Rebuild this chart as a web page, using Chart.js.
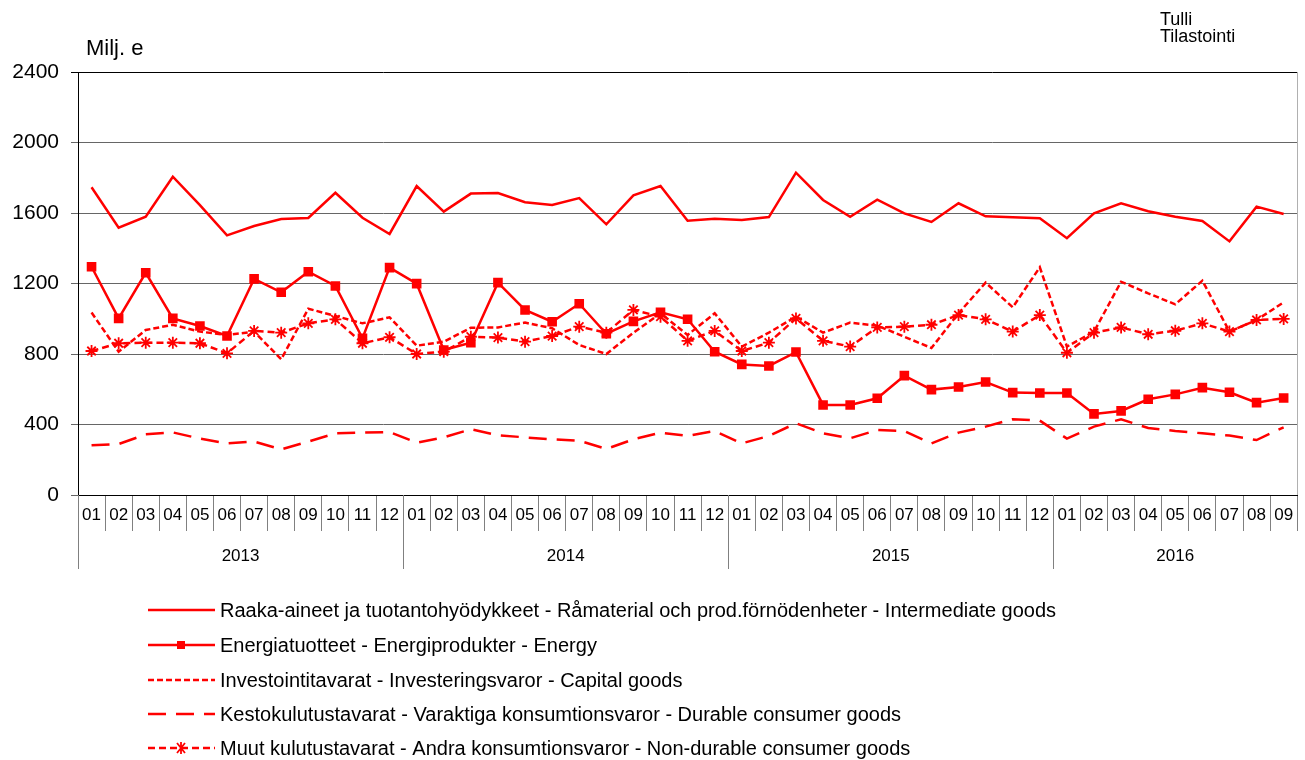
<!DOCTYPE html>
<html>
<head>
<meta charset="utf-8">
<script src="https://cdn.jsdelivr.net/npm/chart.js@4"></script>
<style>
  body { margin: 0; background: #fff; }
  #wrap { width: 1305px; height: 760px; }
</style>
</head>
<body>
<div id="wrap"><canvas id="importChart" width="1305" height="760"></canvas></div>
<script>
const years = ['2013', '2014', '2015', '2016'];
const months = [
  '01','02','03','04','05','06','07','08','09','10','11','12',
  '01','02','03','04','05','06','07','08','09','10','11','12',
  '01','02','03','04','05','06','07','08','09','10','11','12',
  '01','02','03','04','05','06','07','08','09'
];
const yTicks = [0, 400, 800, 1200, 1600, 2000, 2400];

const intermediate = [
  1746, 1517, 1579, 1806, 1645, 1473, 1526, 1566, 1572, 1715, 1573, 1481,
  1753, 1608, 1710, 1713, 1661, 1645, 1685, 1536, 1700, 1753, 1556, 1568,
  1560, 1577, 1829, 1674, 1579, 1676, 1598, 1549, 1655, 1581, 1576, 1570,
  1457, 1598, 1655, 1610, 1579, 1555, 1439, 1636, 1594
];
const energy = [
  1295, 1002, 1261, 1002, 959, 902, 1226, 1150, 1267, 1186, 889, 1290,
  1199, 823, 864, 1205, 1050, 983, 1085, 915, 985, 1037, 997, 813,
  741, 732, 811, 511, 511, 549, 677, 598, 613, 641, 581, 579,
  579, 460, 477, 543, 571, 609, 583, 524, 550
];
const capital = [
  1035, 813, 936, 966, 927, 908, 927, 770, 1057, 1016, 974, 1008,
  847, 870, 949, 951, 978, 946, 851, 800, 921, 1031, 908, 1031,
  842, 921, 1012, 921, 978, 961, 898, 834, 1031, 1205, 1065, 1292,
  842, 927, 1210, 1144, 1082, 1216, 927, 993, 1093
];
const durable = [
  282, 289, 344, 355, 320, 293, 303, 259, 303, 350, 354, 357,
  297, 327, 373, 339, 327, 316, 308, 261, 316, 354, 335, 363,
  293, 335, 407, 350, 322, 369, 363, 293, 354, 388, 430, 422,
  320, 388, 430, 380, 363, 350, 337, 312, 384
];
const nondurable = [
  817, 861, 864, 864, 861, 804, 931, 921, 974, 997, 861, 895,
  800, 813, 898, 893, 870, 902, 955, 921, 1050, 1012, 875, 931,
  817, 864, 1002, 875, 842, 951, 955, 966, 1021, 997, 927, 1021,
  807, 921, 951, 912, 932, 974, 927, 993, 999
];

const seriesNames = [
  'Raaka-aineet ja tuotantohyödykkeet - Råmaterial och prod.förnödenheter - Intermediate goods',
  'Energiatuotteet - Energiprodukter - Energy',
  'Investointitavarat - Investeringsvaror - Capital goods',
  'Kestokulutustavarat - Varaktiga konsumtionsvaror - Durable consumer goods',
  'Muut kulutustavarat - Andra konsumtionsvaror - Non-durable consumer goods'
];

const red = '#ff0000';
const font = 'Arial, "Liberation Sans", sans-serif';

// extra texts, year row, separators and legend
const extrasPlugin = {
  id: 'extras',
  afterDraw(chart) {
    const ctx = chart.ctx;
    const area = chart.chartArea;
    const step = (area.right - area.left) / months.length;
    ctx.save();

    // right border of the plot
    ctx.strokeStyle = '#b0b0b0';
    ctx.lineWidth = 1;
    ctx.beginPath();
    ctx.moveTo(Math.round(area.right) + 0.5, area.top);
    ctx.lineTo(Math.round(area.right) + 0.5, area.bottom);
    ctx.stroke();

    ctx.fillStyle = '#000';
    ctx.font = '22px ' + font;
    ctx.textBaseline = 'alphabetic';
    ctx.textAlign = 'left';
    ctx.fillText('Milj. e', 86, 55);
    ctx.font = '18px ' + font;
    ctx.fillText('Tulli', 1160, 25);
    ctx.fillText('Tilastointi', 1160, 42);

    // year separators and labels
    ctx.strokeStyle = '#808080';
    ctx.lineWidth = 1;
    ctx.font = '17px ' + font;
    ctx.textAlign = 'center';
    ctx.textBaseline = 'middle';
    let start = 0;
    years.forEach((yr, k) => {
      const n = k < 3 ? 12 : months.length - 36;
      const x0 = area.left + start * step;
      const x1 = area.left + (start + n) * step;
      ctx.beginPath();
      ctx.moveTo(Math.round(x0) + 0.5, area.bottom);
      ctx.lineTo(Math.round(x0) + 0.5, 569);
      ctx.stroke();
      ctx.fillText(yr, (x0 + x1) / 2, 556);
      start += n;
    });

    // legend
    const rows = [610, 645, 680, 714, 748];
    const ds = chart.data.datasets;
    ctx.textAlign = 'left';
    ctx.font = '20px ' + font;
    rows.forEach((ry, i) => {
      const d = ds[i];
      ctx.strokeStyle = red;
      ctx.lineWidth = 2.5;
      ctx.setLineDash(d.borderDash || []);
      ctx.beginPath();
      ctx.moveTo(148, ry);
      ctx.lineTo(215, ry);
      ctx.stroke();
      ctx.setLineDash([]);
      if (d.pointStyle === 'rect') {
        ctx.fillStyle = red;
        ctx.fillRect(177, ry - 4, 8, 8);
      } else if (d.pointStyle === 'star') {
        ctx.lineWidth = 1.8;
        ctx.beginPath();
        ctx.moveTo(177, ry - 5); ctx.lineTo(185, ry + 5);
        ctx.moveTo(185, ry - 5); ctx.lineTo(177, ry + 5);
        ctx.moveTo(181, ry - 6); ctx.lineTo(181, ry + 6);
        ctx.stroke();
      }
      ctx.fillStyle = '#000';
      ctx.fillText(seriesNames[i], 220, ry + 1);
    });
    ctx.restore();
  }
};

const ctx = document.getElementById('importChart').getContext('2d');
const importChart = new Chart(ctx, {
  type: 'line',
  data: {
    labels: months,
    datasets: [
      {
        label: seriesNames[0],
        data: intermediate,
        borderColor: red,
        borderWidth: 2.5,
        pointRadius: 0,
        tension: 0
      },
      {
        label: seriesNames[1],
        data: energy,
        borderColor: red,
        backgroundColor: red,
        borderWidth: 2.5,
        pointStyle: 'rect',
        pointRadius: 6.8,
        pointBorderWidth: 0,
        tension: 0
      },
      {
        label: seriesNames[2],
        data: capital,
        borderColor: red,
        borderWidth: 2.5,
        borderDash: [6, 3],
        pointRadius: 0,
        tension: 0
      },
      {
        label: seriesNames[3],
        data: durable,
        borderColor: red,
        borderWidth: 2.5,
        borderDash: [18, 10],
        pointRadius: 0,
        tension: 0
      },
      {
        label: seriesNames[4],
        data: nondurable,
        borderColor: red,
        backgroundColor: red,
        borderWidth: 2.5,
        borderDash: [7, 4],
        pointStyle: 'star',
        pointRadius: 6,
        pointBorderWidth: 1.8,
        tension: 0
      }
    ]
  },
  options: {
    responsive: false,
    animation: false,
    layout: { padding: { top: 72, right: 7, left: 0, bottom: 0 } },
    plugins: {
      legend: { display: false },
      tooltip: { enabled: false }
    },
    scales: {
      x: {
        offset: true,
        afterFit(scale) { scale.height = 265; },
        border: { color: '#000', width: 1 },
        grid: {
          offset: true,
          drawOnChartArea: false,
          drawTicks: true,
          tickLength: 36,
          color: '#808080'
        },
        ticks: {
          autoSkip: false,
          maxRotation: 0,
          padding: -26,
          color: '#000',
          font: { size: 17, family: font }
        }
      },
      y: {
        min: 0,
        max: 2400,
        afterFit(scale) { scale.width = 78; },
        afterBuildTicks(scale) { scale.ticks = yTicks.map(v => ({ value: v })); },
        border: { color: '#000', width: 1 },
        grid: {
          color: ctx => ctx.tick && ctx.tick.value === 2400 ? '#000' : '#666',
          tickLength: 7
        },
        ticks: {
          padding: 12,
          color: '#000',
          font: { size: 21, family: font },
          callback: v => String(v)
        }
      }
    }
  },
  plugins: [extrasPlugin]
});
</script>
</body>
</html>
